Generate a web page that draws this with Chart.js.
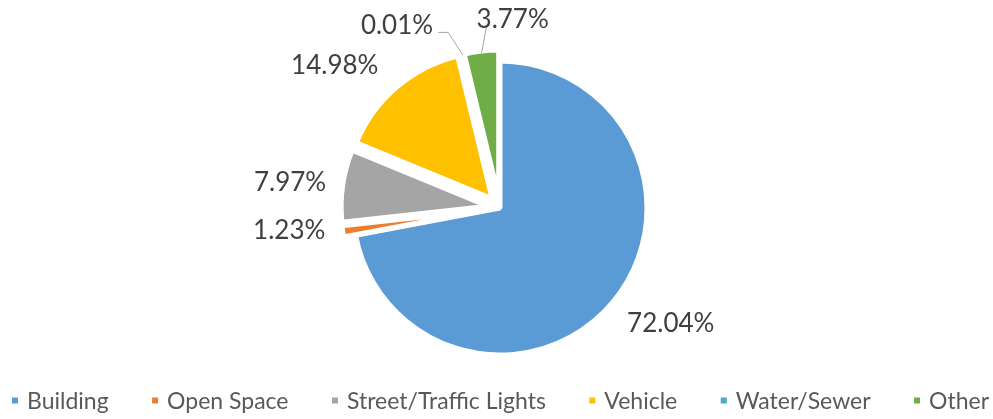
<!DOCTYPE html>
<html>
<head>
<meta charset="utf-8">
<script src="https://cdn.jsdelivr.net/npm/chart.js@4.4.1/dist/chart.umd.min.js"></script>
<style>
  html, body { margin: 0; padding: 0; background: #ffffff; }
  #chart_wrapper { width: 993px; height: 419px; }
</style>
</head>
<body>
<div id="chart_wrapper"><canvas id="myChart"></canvas></div>
<script>
let fontFamily = "Lato, 'Noto Sans', sans-serif";
let labelColor = "#404040";
let legendColor = "#595959";
let leaderColor = "#A6A6A6";

let categories = ["Building", "Open Space", "Street/Traffic Lights", "Vehicle", "Water/Sewer", "Other"];
let shares = [72.04, 1.23, 7.97, 14.98, 0.01, 3.77];
let colors = ["#5B9BD5", "#ED7D31", "#A5A5A5", "#FFC000", "#4BACC6", "#70AD47"];
// 切り出し量（px）
let explode = [0, 12, 12, 12, 12, 11];

// ラベル位置の調整（gap: 外周からの距離、shift: 微調整、leader: 引き出し線）
let labelOpts = [
  { gap: 26, shift: [4, -2] },
  { gap: 18, shift: [0, -6] },
  { gap: 17, shift: [0, 0] },
  { gap: 33, shift: [-12, 10] },
  { leader: [[-15, -23], [-10, 0]], align: "right", text: [-5, -8] },
  { leader: [[5, -27]], align: "left", text: [-10, -7] },
];

// 扇形を個別に切り出して描くパイ
class ExplodedPieController extends Chart.PieController {
  draw() {
    const ctx = this.chart.ctx;
    const area = this.chart.chartArea;
    this._cachedMeta.data.forEach((arc, i) => {
      const mid = (arc.startAngle + arc.endAngle) / 2;
      const d = explode[i] || 0;
      ctx.save();
      ctx.translate(Math.cos(mid) * d, Math.sin(mid) * d);
      arc.draw(ctx, area);
      ctx.restore();
    });
  }
}
ExplodedPieController.id = "explodedPie";
ExplodedPieController.defaults = Chart.PieController.defaults;
ExplodedPieController.overrides = Chart.PieController.overrides;
Chart.register(ExplodedPieController);

// パーセント表示ラベル
const pieLabels = {
  id: "pieLabels",
  afterDatasetsDraw(chart) {
    const ctx = chart.ctx;
    const meta = chart.getDatasetMeta(0);
    ctx.save();
    ctx.font = "26px " + fontFamily;
    ctx.fillStyle = labelColor;
    ctx.textBaseline = "alphabetic";
    const capHalf = 26 * 0.72 / 2;
    meta.data.forEach((arc, i) => {
      const p = arc.getProps(["x", "y", "startAngle", "endAngle", "outerRadius"], true);
      const mid = (p.startAngle + p.endAngle) / 2;
      const dx = Math.cos(mid), dy = Math.sin(mid);
      const off = explode[i] || 0;
      const cx = p.x + dx * off, cy = p.y + dy * off;
      const text = shares[i].toFixed(2) + "%";
      const w = ctx.measureText(text).width;
      const o = labelOpts[i];
      if (o.leader) {
        let x = cx + dx * (p.outerRadius - 2);
        let y = cy + dy * (p.outerRadius - 2);
        ctx.strokeStyle = leaderColor;
        ctx.lineWidth = 1;
        ctx.beginPath();
        ctx.moveTo(x, y);
        o.leader.forEach((s) => {
          x += s[0];
          y += s[1];
          ctx.lineTo(x, y);
        });
        ctx.stroke();
        ctx.textAlign = o.align;
        ctx.fillText(text, x + o.text[0], y + o.text[1] + capHalf);
      } else {
        const ax = cx + dx * (p.outerRadius + o.gap);
        const ay = cy + dy * (p.outerRadius + o.gap);
        ctx.textAlign = "center";
        ctx.fillText(text, ax + dx * w / 2 + o.shift[0], ay + dy * capHalf + capHalf + o.shift[1]);
      }
    });
    ctx.restore();
  },
};

// 凡例（下部に1行、左右いっぱいに配置）
const bottomLegend = {
  id: "bottomLegend",
  afterDraw(chart) {
    const ctx = chart.ctx;
    const box = 6, boxGap = 9, rowY = 400.5, left = 12, right = 989;
    ctx.save();
    ctx.font = "23px " + fontFamily;
    const widths = categories.map((c) => box + boxGap + ctx.measureText(c).width);
    const sum = widths.reduce((a, b) => a + b, 0);
    const itemGap = (right - left - sum) / (categories.length - 1);
    let x = left;
    ctx.textAlign = "left";
    ctx.textBaseline = "alphabetic";
    categories.forEach((c, i) => {
      ctx.fillStyle = colors[i];
      ctx.fillRect(x, rowY - box / 2, box, box);
      ctx.fillStyle = legendColor;
      ctx.fillText(c, x + box + boxGap, rowY + 23 * 0.72 / 2);
      x += widths[i] + itemGap;
    });
    ctx.restore();
  },
};

let config = {
  type: "explodedPie",
  data: {
    labels: categories,
    datasets: [
      {
        data: shares,
        backgroundColor: colors,
        borderColor: "#FFFFFF",
        borderWidth: 5,
        hoverOffset: 0,
      },
    ],
  },
  options: {
    responsive: true,
    maintainAspectRatio: false,
    animation: false,
    radius: 147,
    layout: {
      padding: { left: 7, right: 0, top: 0, bottom: 3 },
    },
    plugins: {
      legend: { display: false },
      tooltip: { enabled: false },
    },
  },
  plugins: [pieLabels, bottomLegend],
};

window.onload = function () {
  let ctx = document.getElementById("myChart").getContext("2d");
  window.myPie = new Chart(ctx, config);
};
</script>
</body>
</html>
